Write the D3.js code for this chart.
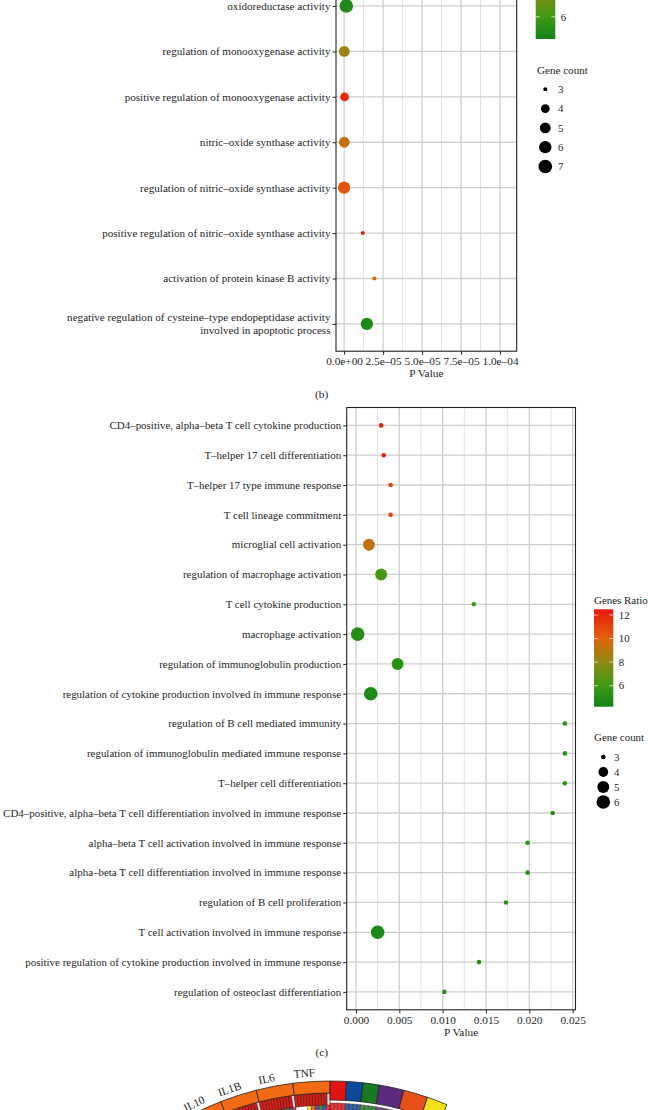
<!DOCTYPE html>
<html><head><meta charset="utf-8">
<script src="https://cdn.jsdelivr.net/npm/d3@7"></script>
<style>
html,body{margin:0;padding:0;background:#fff;}
svg{display:block;font-family:"Liberation Serif","DejaVu Serif",serif;}
</style></head>
<body><svg id="chart" width="648" height="1110"></svg>
<script>
// ---------------- data: panel (b) ----------------
const bTerms = [
  "oxidoreductase activity",
  "regulation of monooxygenase activity",
  "positive regulation of monooxygenase activity",
  "nitric–oxide synthase activity",
  "regulation of nitric–oxide synthase activity",
  "positive regulation of nitric–oxide synthase activity",
  "activation of protein kinase B activity",
  "negative regulation of cysteine–type endopeptidase activity|involved in apoptotic process"
];
const bPValue = [1.4e-6, 0.1e-6, 0.3e-6, 0.1e-6, 0.0, 1.2e-5, 1.94e-5, 1.46e-5];
const bRatio  = [4.6, 8.4, 11.6, 9.3, 10.4, 12.0, 9.6, 4.6];
const bCount  = [7, 5, 4, 5, 6, 3, 3, 6];
const bTickValues = [0, 2.5e-5, 5e-5, 7.5e-5, 1e-4];
const bTickLabels = ["0.0e+00", "2.5e–05", "5.0e–05", "7.5e–05", "1.0e–04"];
const bRatioTicks = [6, 8, 10, 12];
const bCountBreaks = [3, 4, 5, 6, 7];

// ---------------- data: panel (c) ----------------
const cTerms = [
  "CD4–positive, alpha–beta T cell cytokine production",
  "T–helper 17 cell differentiation",
  "T–helper 17 type immune response",
  "T cell lineage commitment",
  "microglial cell activation",
  "regulation of macrophage activation",
  "T cell cytokine production",
  "macrophage activation",
  "regulation of immunoglobulin production",
  "regulation of cytokine production involved in immune response",
  "regulation of B cell mediated immunity",
  "regulation of immunoglobulin mediated immune response",
  "T–helper cell differentiation",
  "CD4–positive, alpha–beta T cell differentiation involved in immune response",
  "alpha–beta T cell activation involved in immune response",
  "alpha–beta T cell differentiation involved in immune response",
  "regulation of B cell proliferation",
  "T cell activation involved in immune response",
  "positive regulation of cytokine production involved in immune response",
  "regulation of osteoclast differentiation"
];
const cPValue = [0.0029, 0.0032, 0.0040, 0.0040, 0.0015, 0.0029, 0.0136, 0.0002, 0.0048, 0.0017,
                 0.0241, 0.0241, 0.0241, 0.0227, 0.0198, 0.0198, 0.0173, 0.0025, 0.0142, 0.0102];
const cRatio  = [12.2, 12.0, 11.0, 11.0, 9.2, 6.2, 6.2, 5.0, 5.2, 4.6,
                 5.2, 5.2, 5.2, 5.2, 5.2, 5.2, 5.2, 4.6, 5.2, 5.2];
const cCount  = [3, 3, 3, 3, 5, 5, 3, 6, 5, 6, 3, 3, 3, 3, 3, 3, 3, 6, 3, 3];
const cTickValues = [0, 0.005, 0.010, 0.015, 0.020, 0.025];
const cTickLabels = ["0.000", "0.005", "0.010", "0.015", "0.020", "0.025"];
const cRatioTicks = [6, 8, 10, 12];
const cCountBreaks = [3, 4, 5, 6];

// ---------------- data: chord (bottom, partly visible) ----------------
const chordGenes = ["IL10", "IL1B", "IL6", "TNF"];
const chordGeneLinks = [9, 9, 9, 9];
const chordTermLinks = [4, 4, 4, 6, 6, 5];
const chordTermColors = ["#e01414", "#0c4a9c", "#197a24", "#5b2a7e", "#e8501a", "#f2e21e"];
const chordGeneColor = "#f26b12";

// ---------------- shared styles ----------------
const svg = d3.select("#chart");
const TEXT = "#1e1e1e";
const ratioColorStops = ["#12841a", "#3f9a16", "#8c8a12", "#e2620e", "#e8180c"];

function makeColor(lo, hi) {
  const k = [lo, 6, 8, 10, hi];
  return d3.scaleLinear().domain(k).range(ratioColorStops).clamp(true);
}
function makeSize(lo, hi, rmin, rmax) {
  const t = d3.scaleLinear().domain([lo, hi]).range([0, 1]).clamp(true);
  const r = d3.scaleLinear().domain([0, 1]).range([rmin, rmax]);
  return v => r(Math.sqrt(t(v)));
}

function panel(o) {
  const g = svg.append("g");
  const x = d3.scaleLinear().domain(o.xDomain).range([o.left, o.right]);
  const y = d3.scalePoint().domain(o.terms).range([o.top, o.bottom]).padding(0.6);
  const color = makeColor(o.ratioLo, o.ratioHi);
  const size = makeSize(o.countLo, o.countHi, o.rmin, o.rmax);

  const clipId = "clip" + o.id;
  svg.append("clipPath").attr("id", clipId).append("rect")
    .attr("x", o.left).attr("y", o.top).attr("width", o.right - o.left).attr("height", o.bottom - o.top);
  const inner = g.append("g").attr("clip-path", `url(#${clipId})`);

  const minors = [];
  for (let i = 0; i < o.ticks.length - 1; i++) minors.push((o.ticks[i] + o.ticks[i + 1]) / 2);
  inner.selectAll("line.minor").data(minors).join("line").attr("class", "minor")
    .attr("x1", d => x(d)).attr("x2", d => x(d)).attr("y1", o.top).attr("y2", o.bottom)
    .attr("stroke", "#e3e3e3").attr("stroke-width", 1);
  inner.selectAll("line.vmaj").data(o.ticks).join("line").attr("class", "vmaj")
    .attr("x1", d => x(d)).attr("x2", d => x(d)).attr("y1", o.top).attr("y2", o.bottom)
    .attr("stroke", "#cfcfcf").attr("stroke-width", 1.3);
  inner.selectAll("line.hmaj").data(o.terms).join("line").attr("class", "hmaj")
    .attr("x1", o.left).attr("x2", o.right).attr("y1", d => y(d)).attr("y2", d => y(d))
    .attr("stroke", "#cfcfcf").attr("stroke-width", 1.3);

  inner.selectAll("circle.pt").data(o.terms).join("circle").attr("class", "pt")
    .attr("cx", (d, i) => x(o.p[i])).attr("cy", d => y(d))
    .attr("r", (d, i) => size(o.count[i]))
    .attr("fill", (d, i) => color(o.ratio[i]));

  g.append("rect").attr("x", o.left).attr("y", o.top)
    .attr("width", o.right - o.left).attr("height", o.bottom - o.top)
    .attr("fill", "none").attr("stroke", "#222").attr("stroke-width", 1.1);

  const ya = g.append("g").attr("transform", `translate(${o.left},0)`)
    .call(d3.axisLeft(y).tickSize(3.5).tickPadding(3).tickFormat(""));
  ya.select(".domain").remove();
  ya.selectAll(".tick line").attr("stroke", "#333").attr("stroke-width", 1.1);
  o.terms.forEach(t => {
    const lines = t.split("|");
    const txt = g.append("text").attr("x", o.left - 5.5).attr("text-anchor", "end")
      .attr("font-size", o.fs).attr("fill", TEXT);
    const yy = y(t);
    if (lines.length === 1) {
      txt.attr("y", yy).attr("dy", "0.35em").text(t);
    } else {
      lines.forEach((l, k) => txt.append("tspan").attr("x", o.left - 5.5)
        .attr("y", yy + (k === 0 ? -7.3 : 6.3)).attr("dy", "0.35em").text(l));
    }
  });

  const xa = g.append("g").attr("transform", `translate(0,${o.bottom})`)
    .call(d3.axisBottom(x).tickValues(o.ticks).tickSize(3.5).tickPadding(2.5)
      .tickFormat((d, i) => o.tickLabels[i]));
  xa.select(".domain").remove();
  xa.selectAll(".tick line").attr("stroke", "#333").attr("stroke-width", 1.1);
  xa.selectAll(".tick text").attr("font-size", o.tfs).attr("fill", TEXT)
    .attr("font-family", "Liberation Serif, serif").attr("dy", "0.71em");
  g.append("text").attr("x", (o.left + o.right) / 2).attr("y", o.bottom + 22)
    .attr("dy", "0.35em").attr("text-anchor", "middle").attr("font-size", o.tfs)
    .attr("fill", TEXT).text("P Value");

  const cb = o.cbar;
  const cy = d3.scaleLinear().domain([o.ratioLo, o.ratioHi]).range([cb.y + cb.h, cb.y]);
  const gradId = "grad" + o.id;
  const grad = svg.append("defs").append("linearGradient").attr("id", gradId)
    .attr("x1", 0).attr("y1", 1).attr("x2", 0).attr("y2", 0);
  d3.range(0, 1.0001, 0.05).forEach(t => {
    const v = o.ratioLo + t * (o.ratioHi - o.ratioLo);
    grad.append("stop").attr("offset", t).attr("stop-color", color(v));
  });
  if (cb.title) g.append("text").attr("x", cb.x).attr("y", cb.y - 9).attr("dy", "0.35em")
    .attr("font-size", o.fs).attr("fill", TEXT).text("Genes Ratio");
  g.append("rect").attr("x", cb.x).attr("y", cb.y).attr("width", cb.w).attr("height", cb.h)
    .attr("fill", `url(#${gradId})`);
  o.ratioTicks.filter(v => cy(v) > 6).forEach(v => {
    [[cb.x, cb.x + cb.w / 5], [cb.x + cb.w * 4 / 5, cb.x + cb.w]].forEach(([a, b]) =>
      g.append("line").attr("x1", a).attr("x2", b).attr("y1", cy(v)).attr("y2", cy(v))
        .attr("stroke", "#fff").attr("stroke-opacity", 0.7).attr("stroke-width", 1));
    g.append("text").attr("x", cb.x + cb.w + 5.5).attr("y", cy(v)).attr("dy", "0.35em")
      .attr("font-size", o.lfs).attr("fill", TEXT).text(v);
  });

  const sl = o.sleg;
  g.append("text").attr("x", sl.x).attr("y", sl.y).attr("dy", "0.35em")
    .attr("font-size", o.fs).attr("fill", TEXT).text("Gene count");
  o.countBreaks.forEach((v, i) => {
    const yy = sl.y + sl.first + i * sl.step;
    g.append("circle").attr("cx", sl.cx).attr("cy", yy).attr("r", size(v)).attr("fill", "#000");
    g.append("text").attr("x", sl.lx).attr("y", yy).attr("dy", "0.35em")
      .attr("font-size", o.lfs).attr("fill", TEXT).text(v);
  });
}

// panel (b)
panel({
  id: "b", terms: bTerms, p: bPValue, ratio: bRatio, count: bCount,
  left: 336, right: 516.7, top: -21.3, bottom: 351.2,
  xDomain: [-5.2e-6, 1.107e-4], ticks: bTickValues, tickLabels: bTickLabels,
  ratioLo: 4.2, ratioHi: 12.1, countLo: 3, countHi: 7, rmin: 2.0, rmax: 6.8,
  fs: 11.1, tfs: 11.3, lfs: 10.8,
  ratioTicks: bRatioTicks, countBreaks: bCountBreaks,
  cbar: {x: 535.7, y: -58.4, w: 19.6, h: 97.4, title: false},
  sleg: {x: 537, y: 70, first: 19.3, step: 19.3, cx: 545.3, lx: 558}
});

// panel (c)
panel({
  id: "c", terms: cTerms, p: cPValue, ratio: cRatio, count: cCount,
  left: 346.7, right: 575.5, top: 407.5, bottom: 1009.8,
  xDomain: [-0.00107, 0.02533], ticks: cTickValues, tickLabels: cTickLabels,
  ratioLo: 4.22, ratioHi: 12.48, countLo: 3, countHi: 6, rmin: 2.3, rmax: 6.8,
  fs: 10.95, tfs: 11.3, lfs: 10.8,
  ratioTicks: cRatioTicks, countBreaks: cCountBreaks,
  cbar: {x: 594, y: 609.3, w: 19.3, h: 97.4, title: true},
  sleg: {x: 594, y: 737, first: 20, step: 15, cx: 603.3, lx: 614}
});

// captions
svg.append("text").attr("x", 321.7).attr("y", 394.5).attr("dy", "0.35em").attr("text-anchor", "middle")
  .attr("font-size", 11.3).attr("fill", TEXT).text("(b)");
svg.append("text").attr("x", 321.7).attr("y", 1052).attr("dy", "0.35em").attr("text-anchor", "middle")
  .attr("font-size", 11.3).attr("fill", TEXT).text("(c)");

// ---------------- chord (top sliver) ----------------
(function () {
  const cx = 330, cy = 1381, R = 300;
  const unit = d3.scaleLinear().domain([0, 1]).range([0, 0.0138]);
  const cg = svg.append("g").attr("transform", `translate(${cx},${cy})`);
  const genes = [];
  let a = 0;
  for (let i = chordGenes.length - 1; i >= 0; i--) {
    const span = unit(chordGeneLinks[i]);
    genes[i] = {name: chordGenes[i], startAngle: a - span, endAngle: a};
    a -= span;
  }
  const terms = [];
  a = 0;
  chordTermLinks.forEach((n, j) => {
    const span = unit(n);
    terms.push({startAngle: a, endAngle: a + span, color: chordTermColors[j]});
    a += span;
  });
  const ribbon = d3.ribbon().sourceRadius(286).targetRadius(278);
  const nT = terms.length, nG = genes.length;
  const ribbons = [];
  genes.forEach((g, gi) => {
    const slots = nT + 3;
    const gs = (g.endAngle - g.startAngle) / slots;
    terms.forEach((t, tj) => {
      const ts = (t.endAngle - t.startAngle) / nG;
      const slotG = 3 + (nT - 1 - tj);
      const slotT = nG - 1 - gi;
      ribbons.push({
        color: t.color,
        source: {startAngle: g.startAngle + slotG * gs, endAngle: g.startAngle + (slotG + 1) * gs},
        target: {startAngle: t.startAngle + slotT * ts, endAngle: t.startAngle + (slotT + 1) * ts}
      });
    });
  });
  cg.selectAll("path.rib").data(ribbons).join("path").attr("class", "rib")
    .attr("d", d => ribbon(d)).attr("fill", d => d.color).attr("fill-opacity", 0.85)
    .attr("stroke", "#3a1010").attr("stroke-width", 0.35);
  const cellArc = d3.arc().innerRadius(276).outerRadius(288);
  const cells = [];
  genes.forEach(g => {
    const n = 12, s = (g.endAngle - g.startAngle) / n;
    for (let k = 0; k < n; k++) cells.push({startAngle: g.startAngle + k * s, endAngle: g.startAngle + (k + 1) * s,
      light: k === n - 1});
  });
  cg.selectAll("path.cell").data(cells).join("path").attr("class", "cell")
    .attr("d", d => cellArc(d)).attr("fill", d => d.light ? "#d8d8d8" : "#d8201a")
    .attr("stroke", "#4a1010").attr("stroke-width", 0.5);
  const arcG = d3.arc().innerRadius(288).outerRadius(R);
  const arcT = d3.arc().innerRadius(281).outerRadius(R);
  cg.selectAll("path.gseg").data(genes).join("path").attr("class", "gseg")
    .attr("d", d => arcG(d)).attr("fill", chordGeneColor).attr("stroke", "#222").attr("stroke-width", 0.8);
  cg.selectAll("path.tseg").data(terms).join("path").attr("class", "tseg")
    .attr("d", d => arcT(d)).attr("fill", d => d.color).attr("stroke", "#222").attr("stroke-width", 0.8);
  genes.forEach(g => {
    const m = (g.startAngle + g.endAngle) / 2 * 180 / Math.PI - 1.2;
    cg.append("text").attr("transform", `rotate(${m}) translate(0,-305)`)
      .attr("text-anchor", "middle").attr("font-size", 11.3).attr("fill", TEXT).text(g.name);
  });
})();
</script>
</body></html>
